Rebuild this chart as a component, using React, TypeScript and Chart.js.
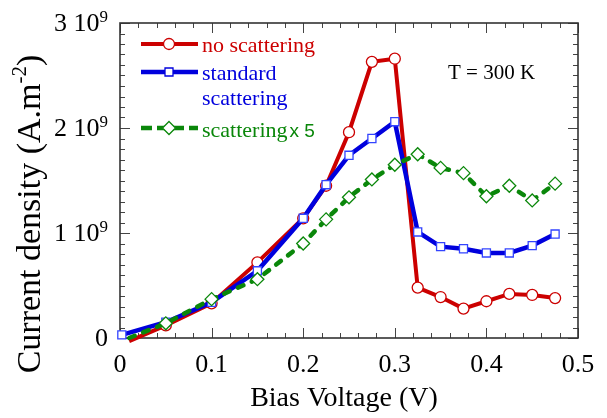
import React, { useEffect, useRef } from 'react';
import { Chart, registerables } from 'chart.js';

Chart.register(...registerables);

// ---- data (current density in units of 1e9 A.m^-2) ----
const noScatV = [0.01, 0.05, 0.1, 0.15, 0.2, 0.225, 0.25, 0.275, 0.3, 0.325, 0.35, 0.375, 0.4, 0.425, 0.45, 0.475];
const noScatJ = [-0.03, 0.12, 0.33, 0.72, 1.14, 1.45, 1.96, 2.63, 2.66, 0.48, 0.39, 0.28, 0.35, 0.42, 0.41, 0.38];

const stdV = [0.002, 0.05, 0.1, 0.15, 0.2, 0.225, 0.25, 0.275, 0.3, 0.325, 0.35, 0.375, 0.4, 0.425, 0.45, 0.475];
const stdJ = [0.03, 0.15, 0.34, 0.64, 1.14, 1.46, 1.74, 1.9, 2.06, 1.01, 0.87, 0.85, 0.81, 0.81, 0.88, 0.99];

const x5V = [0.01, 0.05, 0.1, 0.15, 0.2, 0.225, 0.25, 0.275, 0.3, 0.325, 0.35, 0.375, 0.4, 0.425, 0.45, 0.475];
const x5J = [0.0, 0.14, 0.37, 0.56, 0.9, 1.13, 1.34, 1.51, 1.65, 1.75, 1.62, 1.57, 1.35, 1.45, 1.31, 1.47];

const seriesNames = ['no scattering', 'standard scattering', 'scattering x 5'];

const xTickValues = [0, 0.1, 0.2, 0.3, 0.4, 0.5];
const xTickLabels = ['0', '0.1', '0.2', '0.3', '0.4', '0.5'];
const yTickValues = [0, 1, 2, 3];
const yTickMantissa = ['0', '1 10', '2 10', '3 10'];
const yTickExponent = ['', '9', '9', '9'];

const xTitle = 'Bias Voltage (V)';
const yTitleMain = 'Current density (A.m';
const yTitleSup = '-2';
const yTitleEnd = ')';
const annotation = 'T = 300 K';

const RED = '#cc0000';
const BLUE = '#0000dd';
const GREEN = '#0a870a';
const SERIF = '"Liberation Serif", "Times New Roman", serif';
const SANS = '"Liberation Sans", Arial, sans-serif';

function drawMarker(ctx: CanvasRenderingContext2D, style: string, x: number, y: number, color: string) {
  ctx.save();
  ctx.fillStyle = '#fff';
  ctx.strokeStyle = color;
  ctx.lineWidth = 1.3;
  ctx.setLineDash([]);
  ctx.beginPath();
  if (style === 'circle') {
    ctx.arc(x, y, 5.5, 0, Math.PI * 2);
  } else if (style === 'rect') {
    ctx.rect(x - 4, y - 4, 8, 8);
  } else {
    ctx.moveTo(x, y - 6.5);
    ctx.lineTo(x + 6.5, y);
    ctx.lineTo(x, y + 6.5);
    ctx.lineTo(x - 6.5, y);
    ctx.closePath();
  }
  ctx.fill();
  ctx.stroke();
  ctx.restore();
}

const framePlugin = {
  id: 'frame',
  beforeDatasetsDraw(chart: any) {
    const { ctx, chartArea: a, scales } = chart;
    const xs = scales.x;
    const ys = scales.y;
    ctx.save();
    ctx.strokeStyle = '#444';
    ctx.lineWidth = 1;
    ctx.beginPath();
    for (let i = 0; i <= 25; i++) {
      const px = Math.round(xs.getPixelForValue(i / 50)) + 0.5;
      const len = i % 5 === 0 ? 10 : 5;
      ctx.moveTo(px, a.bottom);
      ctx.lineTo(px, a.bottom - len);
      ctx.moveTo(px, a.top);
      ctx.lineTo(px, a.top + len);
    }
    for (let j = 0; j <= 30; j++) {
      const py = Math.round(ys.getPixelForValue(j / 10)) + 0.5;
      const len = j % 10 === 0 ? 10 : 5;
      ctx.moveTo(a.left, py);
      ctx.lineTo(a.left + len, py);
      ctx.moveTo(a.right, py);
      ctx.lineTo(a.right - len, py);
    }
    ctx.stroke();
    ctx.strokeStyle = '#333';
    ctx.lineWidth = 1.6;
    ctx.strokeRect(a.left, a.top, a.right - a.left, a.bottom - a.top);
    ctx.restore();
  },
  afterDraw(chart: any) {
    const { ctx, chartArea: a, scales } = chart;
    const ys = scales.y;
    ctx.save();
    ctx.fillStyle = '#000';
    ctx.textBaseline = 'alphabetic';
    ctx.textAlign = 'left';
    // y tick labels with superscript exponent
    yTickValues.forEach((v, i) => {
      const py = ys.getPixelForValue(v);
      const right = a.left - 12;
      ctx.font = `17px ${SERIF}`;
      const ws = yTickExponent[i] ? ctx.measureText(yTickExponent[i]).width : 0;
      ctx.font = `26px ${SERIF}`;
      const wm = ctx.measureText(yTickMantissa[i]).width;
      const base = py + 8;
      ctx.fillText(yTickMantissa[i], right - ws - wm, base);
      if (yTickExponent[i]) {
        ctx.font = `17px ${SERIF}`;
        ctx.fillText(yTickExponent[i], right - ws, base - 9);
      }
    });
    // x title
    ctx.font = `28px ${SERIF}`;
    ctx.textAlign = 'center';
    ctx.fillText(xTitle, (a.left + a.right) / 2 - 5, 406);
    // y title (rotated)
    ctx.save();
    ctx.translate(40, 214);
    ctx.rotate(-Math.PI / 2);
    ctx.textAlign = 'left';
    ctx.font = `34px ${SERIF}`;
    const w1 = ctx.measureText(yTitleMain).width;
    const w3 = ctx.measureText(yTitleEnd).width;
    ctx.font = `21px ${SERIF}`;
    const w2 = ctx.measureText(yTitleSup).width;
    let sx = -(w1 + w2 + w3) / 2;
    ctx.font = `34px ${SERIF}`;
    ctx.fillText(yTitleMain, sx, 0);
    sx += w1;
    ctx.font = `21px ${SERIF}`;
    ctx.fillText(yTitleSup, sx, -14);
    sx += w2;
    ctx.font = `34px ${SERIF}`;
    ctx.fillText(yTitleEnd, sx, 0);
    ctx.restore();
    // annotation
    ctx.textAlign = 'left';
    ctx.font = `21px ${SERIF}`;
    ctx.fillText(annotation, 448, 79);
    // legend
    const rows = [
      { y: 44, color: RED, style: 'circle', dash: [] as number[], width: 4 },
      { y: 72, color: BLUE, style: 'rect', dash: [] as number[], width: 4.5 },
      { y: 128, color: GREEN, style: 'diamond', dash: [11, 5], width: 4.5 },
    ];
    rows.forEach((r) => {
      ctx.save();
      ctx.strokeStyle = r.color;
      ctx.lineWidth = r.width;
      ctx.setLineDash(r.dash);
      ctx.beginPath();
      ctx.moveTo(141, r.y);
      ctx.lineTo(198, r.y);
      ctx.stroke();
      ctx.restore();
      drawMarker(ctx, r.style, 169, r.y, r.color);
    });
    ctx.font = `22px ${SERIF}`;
    ctx.fillStyle = RED;
    ctx.fillText(seriesNames[0], 202, 52);
    ctx.fillStyle = BLUE;
    const parts = seriesNames[1].split(' ');
    ctx.fillText(parts[0], 202, 80);
    ctx.fillText(parts[1], 202, 105);
    ctx.fillStyle = GREEN;
    const p3 = seriesNames[2].split(' ');
    ctx.fillText(p3[0], 202, 137);
    const wsc = ctx.measureText(p3[0]).width;
    ctx.font = `19px ${SANS}`;
    ctx.fillText(p3[1] + ' ' + p3[2], 202 + wsc + 2, 137);
    ctx.restore();
  },
};

export default function App() {
  const ref = useRef<HTMLCanvasElement>(null);
  useEffect(() => {
    document.body.style.margin = '0';
    const canvas = ref.current!;
    const mk = (vs: number[], js: number[]) => vs.map((v, i) => ({ x: v, y: js[i] }));
    const chart = new Chart(canvas, {
      type: 'line',
      data: {
        datasets: [
          {
            label: seriesNames[0],
            data: mk(noScatV, noScatJ),
            borderColor: RED,
            borderWidth: 4,
            pointStyle: 'circle',
            pointRadius: noScatV.map((_, i) => (i === 0 ? 0 : 5.5)),
            pointBackgroundColor: '#fff',
            pointBorderColor: RED,
            pointBorderWidth: 1.3,
            order: 3,
            clip: false,
          } as any,
          {
            label: seriesNames[1],
            data: mk(stdV, stdJ),
            borderColor: BLUE,
            borderWidth: 4.5,
            pointStyle: 'rect',
            pointRadius: 5.7,
            pointBackgroundColor: '#fff',
            pointBorderColor: '#3344ff',
            pointBorderWidth: 1.3,
            order: 2,
            clip: false,
          } as any,
          {
            label: seriesNames[2],
            data: mk(x5V, x5J),
            borderColor: GREEN,
            borderWidth: 4.5,
            borderDash: [6, 9],
            borderCapStyle: 'round',
            pointStyle: 'rectRot',
            pointRadius: x5V.map((_, i) => (i === 0 ? 0 : 6.5)),
            pointBackgroundColor: '#fff',
            pointBorderColor: GREEN,
            pointBorderWidth: 1.3,
            order: 1,
            clip: false,
          } as any,
        ],
      },
      options: {
        responsive: false,
        animation: false,
        layout: { padding: { left: 0, right: 29, top: 23, bottom: 0 } },
        plugins: { legend: { display: false }, tooltip: { enabled: false } },
        scales: {
          x: {
            type: 'linear',
            min: 0,
            max: 0.5,
            grid: { display: false },
            border: { display: false },
            afterBuildTicks: (s: any) => {
              s.ticks = xTickValues.map((v) => ({ value: v }));
            },
            ticks: {
              autoSkip: false,
              maxRotation: 0,
              color: '#000',
              padding: 4,
              font: { family: SERIF, size: 26 },
              callback: (_v: any, i: number) => xTickLabels[i],
            },
            afterFit: (s: any) => {
              s.height = 80;
            },
          },
          y: {
            type: 'linear',
            min: 0,
            max: 3,
            grid: { display: false },
            border: { display: false },
            ticks: { display: false },
            afterFit: (s: any) => {
              s.width = 120;
            },
          },
        },
      } as any,
      plugins: [framePlugin],
    });
    return () => chart.destroy();
  }, []);
  return (
    <div style={{ position: 'absolute', left: 0, top: 0, width: 607, height: 418, background: '#fff' }}>
      <canvas ref={ref} width={607} height={418} style={{ width: 607, height: 418, display: 'block' }} />
    </div>
  );
}
